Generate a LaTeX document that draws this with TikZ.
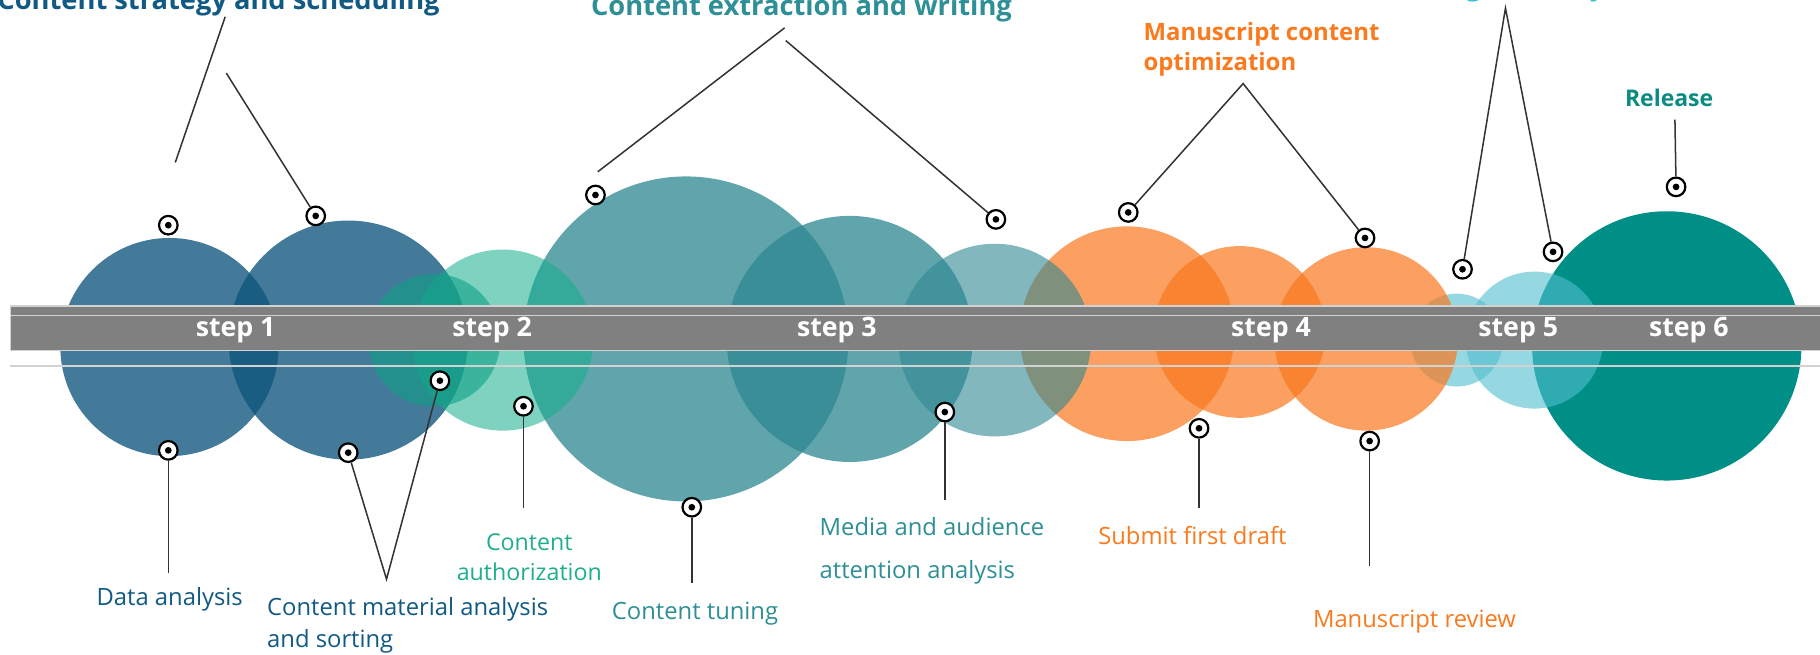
\documentclass[tikz,border=0pt]{standalone}
\usepackage{fontspec}
\setmainfont{Open Sans}
\definecolor{bluec}{HTML}{0F557D}
\definecolor{bluetxt}{HTML}{115A84}
\definecolor{greenc}{HTML}{10A087}
\definecolor{mintc}{HTML}{14AF8C}
\definecolor{minttxt}{HTML}{1FAF8F}
\definecolor{tealc}{HTML}{2D8791}
\definecolor{tealtxt}{HTML}{2E9096}
\definecolor{orangec}{HTML}{FA781E}
\definecolor{orangetxt}{HTML}{FA7A1E}
\definecolor{cyanc}{HTML}{50BECD}
\definecolor{cyantxt}{HTML}{3DBFD0}
\definecolor{darkteal}{HTML}{008F87}
\definecolor{releasetxt}{HTML}{0A8C82}
\definecolor{bandgray}{HTML}{808080}
\definecolor{bandline}{HTML}{D2D2D2}
\definecolor{leadc}{HTML}{333333}
\begin{document}
\begin{tikzpicture}[x=1pt,y=-1pt,
  marker/.style={circle, draw=black, line width=1.9pt, fill=white, minimum size=16pt, inner sep=0pt,
    path picture={\fill[black] (path picture bounding box.center) circle (2.9pt);}},
  leader/.style={draw=leadc, line width=1.3pt},
  lbl/.style={inner sep=0pt, font=\fontsize{20.5}{28}\selectfont},
  ttl/.style={inner sep=0pt, font=\bfseries\fontsize{23.5}{28}\selectfont},
  steplbl/.style={inner sep=0pt, text=white, font=\bfseries\fontsize{23}{28}\selectfont},
  bubble/.style={fill opacity=#1}
]
\useasboundingbox (0,0) rectangle (1568,564);
\fill[white] (0,0) rectangle (1568,564);
\begin{scope}
\clip (0,0) rectangle (1568,564);
% ---- circles (back to front)
\fill[darkteal] (1436,298) circle (116);
\fill[cyanc, bubble=0.6] (1322,293) circle (59);
\fill[cyanc, bubble=0.6] (1255,293) circle (40);
\fill[orangec, bubble=0.7] (1177,292) circle (79);
\fill[orangec, bubble=0.7] (1068,286) circle (74);
\fill[orangec, bubble=0.7] (971,287.5) circle (92.5);
\fill[tealc, bubble=0.6] (857,293) circle (83);
\fill[tealc, bubble=0.75] (732,292) circle (106);
\fill[tealc, bubble=0.75] (591,292) circle (140);
\fill[bluec, bubble=0.78] (146,299) circle (94);
\fill[bluec, bubble=0.78] (300,293) circle (103);
\fill[mintc, bubble=0.55] (433,293) circle (78);
\fill[greenc, bubble=0.6] (374,293) circle (57);
% ---- band
\fill[bandgray] (9,263.6) rectangle (1570,302.2);
\draw[bandline, line width=1pt] (9,263.6) rectangle (1570,302.2);
\draw[bandline, line width=1.5pt] (9,271.9) -- (1570,271.9);
\draw[bandline, line width=1.1pt] (9,315.3) -- (1570,315.3);
\node[steplbl] (s1) at (203,284.5) {step 1};
\node[steplbl] (s2) at (424,284.5) {step 2};
\node[steplbl] (s3) at (721,284.5) {step 3};
\node[steplbl] (s4) at (1095,284.5) {step 4};
\node[steplbl] (s5) at (1308,284.5) {step 5};
\node[steplbl] (s6) at (1455,284.5) {step 6};
% ---- free ends of leaders
\coordinate (l1a) at (151,140);
\coordinate (l1b) at (194,14.5);
\coordinate (l2b) at (195,63);
\coordinate (l3a) at (515,148);
\coordinate (l3b) at (676,24);
\coordinate (l4a) at (677,35);
\coordinate (apx4) at (1071,72);
\coordinate (apx5) at (1297,7);
\coordinate (l9a) at (1443,103);
\coordinate (b1) at (145,494);
\coordinate (bv) at (333,499);
\coordinate (b3) at (451,438);
\coordinate (b4) at (596,502);
\coordinate (b5) at (814,431);
\coordinate (b6) at (1033,438);
\coordinate (b7) at (1180,488);
% ---- markers
\node[marker] (m1) at (145,194) {};
\node[marker] (m2) at (272,186) {};
\node[marker] (m3) at (513,168) {};
\node[marker] (m4) at (858,189) {};
\node[marker] (m5) at (972,183) {};
\node[marker] (m6) at (1176,205) {};
\node[marker] (m7) at (1260,232) {};
\node[marker] (m8) at (1338,217) {};
\node[marker] (m9) at (1444,161) {};
\node[marker] (m10) at (145,388) {};
\node[marker] (m11) at (300,390) {};
\node[marker] (m12) at (379,328) {};
\node[marker] (m13) at (451,350) {};
\node[marker] (m14) at (596,437) {};
\node[marker] (m15) at (814,355) {};
\node[marker] (m16) at (1033,369) {};
\node[marker] (m17) at (1180,380) {};
% ---- leaders
\draw[leader] (l1a) -- (l1b);
\draw[leader] (m2) -- (l2b);
\draw[leader] (l3a) -- (l3b);
\draw[leader] (l4a) -- (m4);
\draw[leader] (m5) -- (apx4) -- (m6);
\draw[leader] (m7) -- (apx5) -- (m8);
\draw[leader] (l9a) -- (m9);
\draw[leader] (m10) -- (b1);
\draw[leader] (m11) -- (bv) -- (m12);
\draw[leader] (m13) -- (b3);
\draw[leader] (m14) -- (b4);
\draw[leader] (m15) -- (b5);
\draw[leader] (m16) -- (b6);
\draw[leader] (m17) -- (b7);
% ---- titles
\node[ttl, text=bluetxt, anchor=base east] (t1) at (379,8.6) {Content strategy and scheduling};
\node[ttl, text=tealtxt, anchor=base] (t3) at (690.5,13) {Content extraction and writing};
\node[ttl, text=orangetxt, anchor=base west, align=left, font=\bfseries\fontsize{20.6}{26}\selectfont] (t4) at (985,61) {Manuscript content\\optimization};
\node[ttl, text=cyantxt, anchor=base] (t5) at (1318,-3.8) {Design and layout};
\node[ttl, text=releasetxt, anchor=base, font=\bfseries\fontsize{19.8}{24}\selectfont] (t6) at (1438,91.5) {Release};
% ---- labels
\node[lbl, text=bluetxt, anchor=base west] (d1) at (83,522) {Data analysis};
\node[lbl, text=bluetxt, anchor=base west, align=left] (d2) at (230,558) {Content material analysis\\and sorting};
\node[lbl, text=minttxt, anchor=base, align=center, font=\fontsize{20}{26}\selectfont] (d3) at (456,500) {Content\\authorization};
\node[lbl, text=tealtxt, anchor=base west] (d4) at (527,534) {Content tuning};
\node[lbl, text=tealtxt, anchor=base west, align=left, font=\fontsize{20.5}{37.5}\selectfont] (d5) at (706,498.5) {Media and audience\\attention analysis};
\node[lbl, text=orangetxt, anchor=base west] (d6) at (946,469.5) {Submit first draft};
\node[lbl, text=orangetxt, anchor=base west] (d7) at (1131,541) {Manuscript review};
\end{scope}
\end{tikzpicture}
\end{document}
